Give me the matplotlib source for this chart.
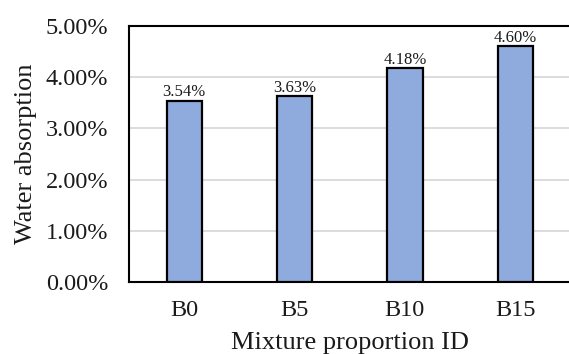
import numpy as np
import matplotlib.pyplot as plt
from matplotlib.ticker import FuncFormatter

# Water absorption per mix
mixes = ['B0', 'B5', 'B10', 'B15']
absorption = [3.54, 3.63, 4.18, 4.60]   # percent

plt.rcParams['font.family'] = 'Liberation Serif'

fig = plt.figure(figsize=(5.69, 3.54), dpi=100)
ax = fig.add_axes([0.2267, 0.2034, 0.7757, 0.7232])

x = np.arange(len(mixes))
bars = ax.bar(x, absorption, width=0.32, color='#8FAADC',
              edgecolor='black', linewidth=1.6, zorder=3)

for xi, v in zip(x, absorption):
    ax.text(xi, v + 0.005, f'{v:.2f}%', ha='center', va='bottom',
            fontsize=12, color='#1a1a1a', zorder=4)

ax.set_xlim(-0.5, 3.5)
ax.set_ylim(0, 5)
ax.set_yticks(np.arange(0, 6, 1))
ax.yaxis.set_major_formatter(FuncFormatter(lambda v, _: f'{v:.2f}%'))
ax.set_xticks(x)
ax.set_xticklabels(mixes)
ax.tick_params(axis='both', length=0, labelsize=17.5, labelcolor='#1a1a1a')
ax.tick_params(axis='y', pad=15)
ax.tick_params(axis='x', pad=13)

ax.grid(axis='y', color='#d9d9d9', linewidth=1.3, zorder=0)
for side in ['left', 'top', 'bottom']:
    ax.spines[side].set_linewidth(1.5)
ax.spines['right'].set_visible(False)

ax.set_ylabel('Water absorption', fontsize=19, labelpad=6, color='#1a1a1a')
ax.set_xlabel('Mixture proportion ID', fontsize=19, labelpad=8, color='#1a1a1a')

fig.savefig('out.png', dpi=100)
